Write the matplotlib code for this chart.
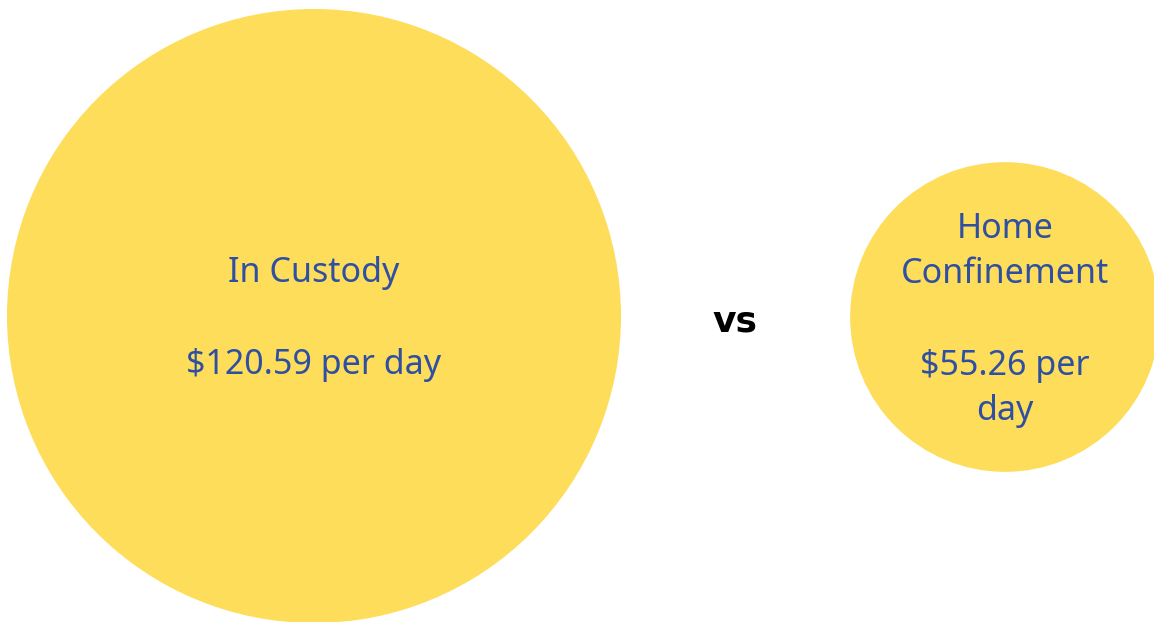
import numpy as np
import matplotlib.pyplot as plt
from matplotlib.patches import Circle

# daily cost per person
labels = ['In Custody', 'Home\nConfinement']
costs = [120.59, 55.26]
value_text = ['$120.59 per day', '$55.26 per\nday']

yellow = '#fddd5a'
blue = '#2f4fa2'

fig = plt.figure(figsize=(11.54, 6.22), dpi=100)
ax = fig.add_axes([0, 0, 1, 1])
ax.set_xlim(0, 1154)
ax.set_ylim(622, 0)
ax.set_aspect('equal')
ax.axis('off')

# circle size scale (radius in px for the largest value)
r_max = 307
centers = [(314, 316), (1005, 317)]
for i, (lab, c, txt) in enumerate(zip(labels, costs, value_text)):
    r = r_max * (c / max(costs)) ** 0.877
    cx, cy = centers[i]
    ax.add_patch(Circle((cx, cy), r, color=yellow, lw=0))
    ax.text(cx, cy + 3, lab + '\n\n' + txt, ha='center', va='center',
            color=blue, fontsize=24.5, family='Noto Sans', linespacing=1.45)

ax.text(735, 321, 'vs', ha='center', va='center', fontsize=26,
        family='DejaVu Sans', fontweight='bold', color='black')

fig.savefig('out.png', dpi=100)
